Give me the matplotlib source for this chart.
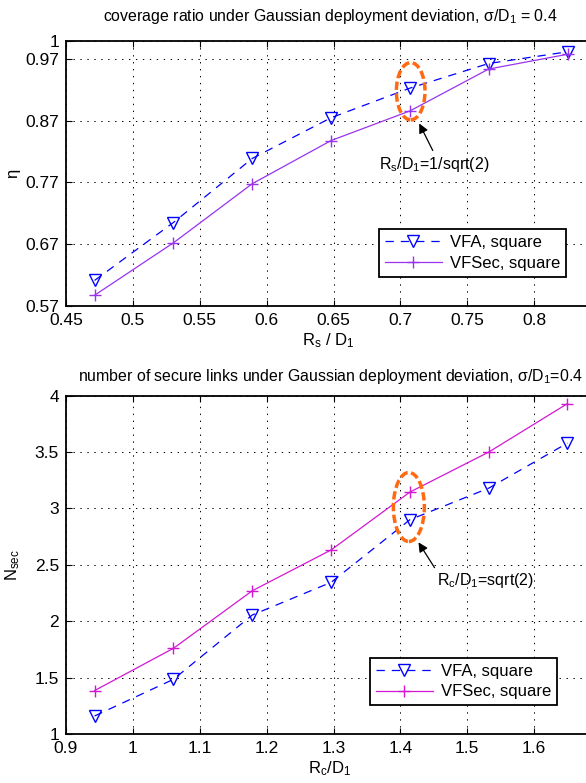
import matplotlib
matplotlib.use("Agg")
import matplotlib.pyplot as plt
from matplotlib.patches import Ellipse

plt.rcParams['font.family'] = ['Liberation Sans', 'DejaVu Sans']
plt.rcParams['mathtext.fontset'] = 'custom'
plt.rcParams['mathtext.rm'] = 'Liberation Sans'
plt.rcParams['mathtext.it'] = 'Liberation Sans'
plt.rcParams['lines.scale_dashes'] = False

# ---- data ----
x_top = [0.4714, 0.5303, 0.5893, 0.6482, 0.7071, 0.7660, 0.8250]
vfa_eta = [0.611, 0.705, 0.809, 0.875, 0.923, 0.963, 0.982]
vfsec_eta = [0.587, 0.672, 0.768, 0.838, 0.886, 0.954, 0.978]

x_bot = [0.9428, 1.0607, 1.1785, 1.2964, 1.4142, 1.5321, 1.6499]
vfa_n = [1.16, 1.485, 2.055, 2.345, 2.90, 3.18, 3.58]
vfsec_n = [1.385, 1.76, 2.27, 2.632, 3.145, 3.50, 3.93]

top_xticks = [0.45, 0.5, 0.55, 0.6, 0.65, 0.7, 0.75, 0.8, 0.85]
top_xticklabels = ['0.45', '0.5', '0.55', '0.6', '0.65', '0.7', '0.75', '0.8', '']
top_yticks = [0.57, 0.67, 0.77, 0.87, 0.97, 1.0]
top_yticklabels = ['0.57', '0.67', '0.77', '0.87', '0.97', '1']
bot_xticks = [0.9, 1.0, 1.1, 1.2, 1.3, 1.4, 1.5, 1.6, 1.7]
bot_xticklabels = ['0.9', '1', '1.1', '1.2', '1.3', '1.4', '1.5', '1.6', '']
bot_yticks = [1.0, 1.5, 2.0, 2.5, 3.0, 3.5, 4.0]
bot_yticklabels = ['1', '1.5', '2', '2.5', '3', '3.5', '4']

labels = ['VFA, square', 'VFSec, square']

W, H = 586, 783
fig = plt.figure(figsize=(W / 100, H / 100), dpi=100)

def px_axes(left, top, right, bottom):
    return fig.add_axes([left / W, 1 - bottom / H, (right - left) / W, (bottom - top) / H])

ax1 = px_axes(66, 40.7, 601, 305.7)
ax2 = px_axes(66, 395.7, 601, 734)

blue = '#0000ff'
purple = '#9933ee'
magenta = '#d318d3'
orange = '#ff6a10'

def style(ax, xt, xtl, yt, ytl, xlim, ylim):
    ax.set_xlim(*xlim)
    ax.set_ylim(*ylim)
    ax.set_xticks(xt)
    ax.set_xticklabels(xtl)
    ax.set_yticks(yt)
    ax.set_yticklabels(ytl)
    ax.tick_params(direction='in', top=True, right=True, labelsize=12.5, length=4, width=0.8)
    ax.tick_params(axis='x', pad=5)
    ax.tick_params(axis='y', pad=5)
    ax.grid(True, linestyle=(0, (1, 4)), color='black', linewidth=0.7)
    for s in ax.spines.values():
        s.set_linewidth(1.3)

style(ax1, top_xticks, top_xticklabels, top_yticks, top_yticklabels, (0.45, 0.85), (0.57, 1.0))
style(ax2, bot_xticks, bot_xticklabels, bot_yticks, bot_yticklabels, (0.9, 1.7), (1.0, 4.0))

ax1.plot(x_top, vfa_eta, color=blue, linestyle='--', dashes=(6, 5), linewidth=0.9,
         marker='v', markersize=8, fillstyle='none', markeredgewidth=1.0, label=labels[0])
ax1.plot(x_top, vfsec_eta, color=purple, linestyle='-', linewidth=0.9,
         marker='+', markersize=9, markeredgewidth=1.0, label=labels[1])

ax2.plot(x_bot, vfa_n, color=blue, linestyle='--', dashes=(6, 5), linewidth=0.9,
         marker='v', markersize=8, fillstyle='none', markeredgewidth=1.0, label=labels[0])
ax2.plot(x_bot, vfsec_n, color=magenta, linestyle='-', linewidth=0.9,
         marker='+', markersize=9, markeredgewidth=1.0, label=labels[1])

# ellipses
ax1.add_patch(Ellipse((0.7077, 0.918), 0.0214, 0.093, fill=False, edgecolor=orange,
                      linewidth=2.5, linestyle=(0, (6, 2.5)), zorder=5))
ax2.add_patch(Ellipse((1.4127, 3.013), 0.0463, 0.612, fill=False, edgecolor=orange,
                      linewidth=2.5, linestyle=(0, (6, 2.5)), zorder=5))

# annotations (pixel-placed)
def fpx(x, y):
    return (x / W, 1 - y / H)

ax1.annotate('', xy=fpx(418, 121), xycoords='figure fraction', xytext=fpx(434, 153),
             textcoords='figure fraction',
             arrowprops=dict(arrowstyle='-|>', color='black', lw=0.9, mutation_scale=14))
fig.text(379 / W, 1 - 165 / H, r'$\mathregular{R_s/D_1}$=1/sqrt(2)', fontsize=11.5,
         ha='left', va='center')

ax2.annotate('', xy=fpx(417, 540), xycoords='figure fraction', xytext=fpx(436, 570),
             textcoords='figure fraction',
             arrowprops=dict(arrowstyle='-|>', color='black', lw=0.9, mutation_scale=14))
fig.text(437 / W, 1 - 580 / H, r'$\mathregular{R_c/D_1}$=sqrt(2)', fontsize=11.5,
         ha='left', va='center')

# titles
fig.text(330 / W, 1 - 16 / H, r'coverage ratio under Gaussian deployment deviation, $\mathregular{σ/D_1}$ = 0.4',
         fontsize=11.4, ha='center', va='center')
fig.text(330 / W, 1 - 377 / H, r'number of secure links under Gaussian deployment deviation, $\mathregular{σ/D_1}$=0.4',
         fontsize=11.4, ha='center', va='center')

# axis labels
fig.text(13 / W, 1 - 173 / H, 'η', fontsize=12, rotation=90, ha='center', va='center')
fig.text(328 / W, 1 - 341 / H, r'$\mathregular{R_s}$ / $\mathregular{D_1}$', fontsize=12, ha='center', va='center')
fig.text(13 / W, 1 - 565 / H, r'$\mathregular{N_{sec}}$', fontsize=12, rotation=90, ha='center', va='center')
fig.text(330 / W, 1 - 769 / H, r'$\mathregular{R_c/D_1}$', fontsize=12, ha='center', va='center')

# legends
for ax, x0, y0 in [(ax1, 379, 229.3), (ax2, 370, 657.7)]:
    leg = ax.legend(loc='upper left', bbox_to_anchor=(x0 / W, 1 - y0 / H),
                    bbox_transform=fig.transFigure, borderaxespad=0, fancybox=False,
                    framealpha=1, edgecolor='black', fontsize=12, handlelength=3.4,
                    handletextpad=0.5, borderpad=0.35, labelspacing=0.35)
    leg.get_frame().set_linewidth(1.3)

fig.savefig('out.png', dpi=100)
